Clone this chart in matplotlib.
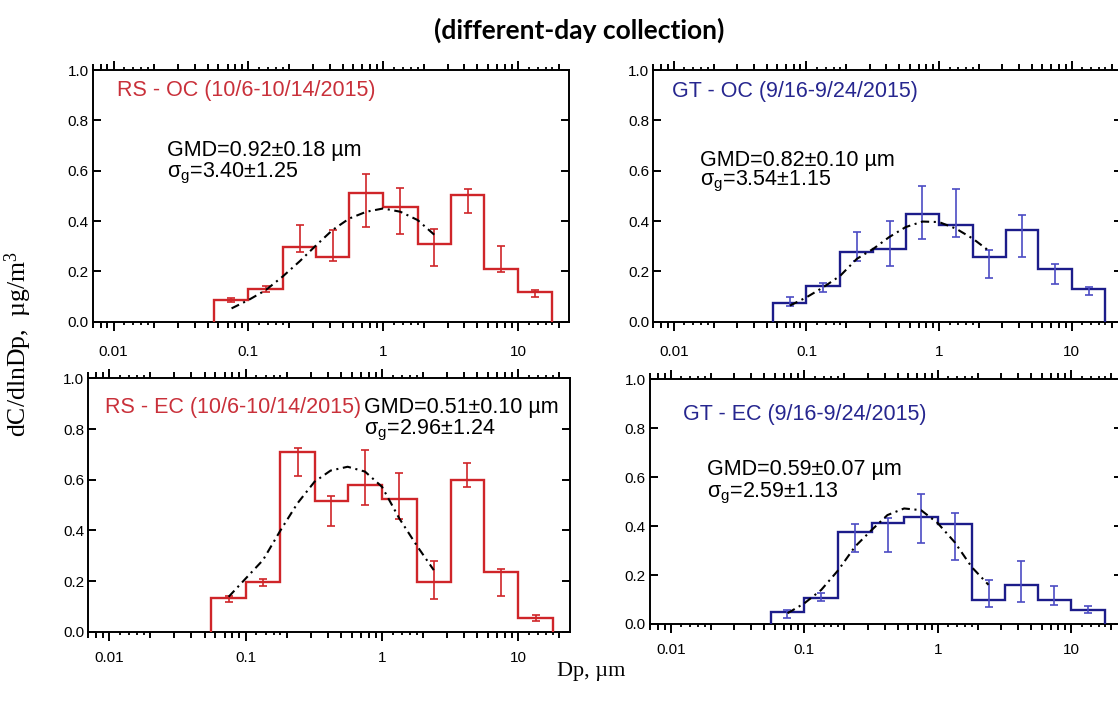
import matplotlib
matplotlib.use("Agg")
import numpy as np
import matplotlib.pyplot as plt
from matplotlib.ticker import FixedLocator, NullLocator

plt.rcParams['font.family'] = ['Liberation Sans', 'DejaVu Sans']
plt.rcParams['mathtext.default'] = 'regular'

# MOUDI stage boundaries, um
bin_edges = [0.056, 0.1, 0.18, 0.32, 0.56, 1.0, 1.8, 3.2, 5.6, 10.0, 18.0]

fit_dp = [0.075, 0.1, 0.134, 0.18, 0.24, 0.32, 0.42, 0.56, 0.75, 1.0, 1.34, 1.8, 2.4]

# RS - OC
rs_oc = [0.088, 0.132, 0.297, 0.259, 0.512, 0.455, 0.307, 0.502, 0.209, 0.120]
rs_oc_lo = [0.078, 0.118, 0.278, 0.243, 0.377, 0.349, 0.221, 0.430, 0.196, 0.100]
rs_oc_hi = [0.094, 0.140, 0.385, 0.364, 0.588, 0.530, 0.368, 0.528, 0.300, 0.126]
rs_oc_fit = [0.053, 0.086, 0.125, 0.180, 0.240, 0.305, 0.364, 0.410, 0.437, 0.450, 0.437, 0.404, 0.345]

# GT - OC
gt_oc = [0.074, 0.142, 0.279, 0.290, 0.429, 0.385, 0.259, 0.363, 0.210, 0.129]
gt_oc_lo = [0.064, 0.117, 0.243, 0.220, 0.329, 0.336, 0.174, 0.259, 0.150, 0.108]
gt_oc_hi = [0.100, 0.153, 0.356, 0.402, 0.538, 0.529, 0.283, 0.425, 0.230, 0.137]
gt_oc_fit = [0.064, 0.097, 0.137, 0.183, 0.250, 0.290, 0.336, 0.376, 0.398, 0.396, 0.370, 0.330, 0.280]

# RS - EC
rs_ec = [0.132, 0.195, 0.708, 0.517, 0.579, 0.522, 0.197, 0.599, 0.234, 0.053]
rs_ec_lo = [0.118, 0.180, 0.616, 0.417, 0.500, 0.443, 0.130, 0.572, 0.142, 0.042]
rs_ec_hi = [0.142, 0.210, 0.724, 0.537, 0.717, 0.628, 0.280, 0.667, 0.249, 0.066]
rs_ec_fit = [0.138, 0.210, 0.283, 0.400, 0.507, 0.592, 0.636, 0.651, 0.632, 0.572, 0.447, 0.340, 0.243]

# GT - EC
gt_ec = [0.048, 0.106, 0.374, 0.411, 0.438, 0.407, 0.098, 0.159, 0.098, 0.057]
gt_ec_lo = [0.023, 0.095, 0.295, 0.295, 0.329, 0.261, 0.071, 0.091, 0.078, 0.046]
gt_ec_hi = [0.057, 0.125, 0.407, 0.435, 0.533, 0.452, 0.180, 0.257, 0.155, 0.075]
gt_ec_fit = [0.044, 0.084, 0.139, 0.220, 0.316, 0.384, 0.445, 0.472, 0.465, 0.412, 0.334, 0.232, 0.160]

RED = '#cf2529'
RED_TXT = '#c9303a'
BLUE = '#1c1c8a'
BLUE_ERR = '#4b4bc4'
BLUE_TXT = '#26268f'


def style_axes(ax, xpad):
    ax.set_xscale('log')
    ax.set_xlim(0.007, 24)
    ax.set_ylim(0, 1.0)

    decades = [0.001, 0.01, 0.1, 1, 10]
    minor = [k * d for d in decades for k in range(2, 10) if 0.007 <= k * d <= 24]
    sub = [k * d for d in decades for k in (1.2, 1.4, 1.6, 1.8) if 0.007 <= k * d <= 24]

    # tiny sub-minor ticks between 1 and 2 of each decade
    for side in ('top', 'bottom'):
        sec = ax.secondary_xaxis(side)
        sec.set_xticks(sub)
        sec.xaxis.set_minor_locator(NullLocator())
        sec.tick_params(axis='x', which='major', direction='out', length=2.2, width=1.3,
                        labelbottom=False, labeltop=False)
        sec.spines[side].set_visible(False)

    ax.set_yticks(np.arange(0, 1.01, 0.2))
    ax.set_yticklabels(['0.0', '0.2', '0.4', '0.6', '0.8', '1.0'])
    ax.tick_params(axis='y', direction='in', length=6, width=1.4,
                   left=True, right=True, labelsize=11, pad=3)

    ax.set_xticks([0.01, 0.1, 1, 10], ['0.01', '0.1', '1', '10'])
    ax.xaxis.set_minor_locator(FixedLocator(minor))
    ax.xaxis.set_ticks_position('both')
    ax.tick_params(axis='x', which='both', direction='out', top=True, bottom=True,
                   labeltop=False, labelbottom=True, labelsize=11, pad=xpad, width=1.4)
    ax.tick_params(axis='x', which='major', length=6.5)
    ax.tick_params(axis='x', which='minor', length=4)

    for s in ax.spines.values():
        s.set_linewidth(1.4)


def draw_panel(ax, values, lo, hi, fit, line_color, err_color, xpad):
    edges = np.array(bin_edges)
    centers = np.sqrt(edges[:-1] * edges[1:])
    lo = np.array(lo)
    hi = np.array(hi)
    ax.stairs(values, edges, baseline=0, color=line_color, linewidth=1.7, zorder=3)
    ax.errorbar(centers, (lo + hi) / 2, yerr=(hi - lo) / 2, fmt='none',
                ecolor=err_color, elinewidth=1.2, capsize=2.8, capthick=1.2, zorder=3)
    ax.plot(fit_dp, fit, color='black', linewidth=1.5,
            linestyle=(0, (4, 2.2, 1, 2.2)), zorder=4)
    style_axes(ax, xpad)


def main():
    fig = plt.figure(figsize=(11.18, 7.11), dpi=100)

    ax1 = fig.add_axes([0.0829, 0.5475, 0.4263, 0.354])
    ax2 = fig.add_axes([0.5844, 0.5475, 0.4192, 0.354])
    ax3 = fig.add_axes([0.0790, 0.1115, 0.4309, 0.3564])
    ax4 = fig.add_axes([0.5814, 0.1224, 0.4222, 0.3442])

    draw_panel(ax1, rs_oc, rs_oc_lo, rs_oc_hi, rs_oc_fit, RED, RED, 10)
    draw_panel(ax2, gt_oc, gt_oc_lo, gt_oc_hi, gt_oc_fit, BLUE, BLUE_ERR, 10)
    draw_panel(ax3, rs_ec, rs_ec_lo, rs_ec_hi, rs_ec_fit, RED, RED, 7.5)
    draw_panel(ax4, gt_ec, gt_ec_lo, gt_ec_hi, gt_ec_fit, BLUE, BLUE_ERR, 7)

    fs = 15.5
    ax1.text(0.050, 0.917, 'RS - OC (10/6-10/14/2015)', transform=ax1.transAxes,
             color=RED_TXT, fontsize=fs, va='center')
    ax1.text(0.155, 0.682, 'GMD=0.92±0.18 µm', transform=ax1.transAxes, fontsize=fs, va='center')
    ax1.text(0.155, 0.591, 'σ$_g$=3.40±1.25', transform=ax1.transAxes, fontsize=fs, va='center')

    ax2.text(0.039, 0.914, 'GT - OC (9/16-9/24/2015)', transform=ax2.transAxes,
             color=BLUE_TXT, fontsize=fs, va='center')
    ax2.text(0.0995, 0.642, 'GMD=0.82±0.10 µm', transform=ax2.transAxes, fontsize=fs, va='center')
    ax2.text(0.0995, 0.556, 'σ$_g$=3.54±1.15', transform=ax2.transAxes, fontsize=fs, va='center')

    ax3.text(0.035, 0.886, 'RS - EC (10/6-10/14/2015)', transform=ax3.transAxes,
             color=RED_TXT, fontsize=fs, va='center')
    ax3.text(0.572, 0.886, 'GMD=0.51±0.10 µm', transform=ax3.transAxes, fontsize=fs, va='center')
    ax3.text(0.572, 0.796, 'σ$_g$=2.96±1.24', transform=ax3.transAxes, fontsize=fs, va='center')

    ax4.text(0.0706, 0.854, 'GT - EC (9/16-9/24/2015)', transform=ax4.transAxes,
             color=BLUE_TXT, fontsize=fs, va='center')
    ax4.text(0.121, 0.632, 'GMD=0.59±0.07 µm', transform=ax4.transAxes, fontsize=fs, va='center')
    ax4.text(0.121, 0.534, 'σ$_g$=2.59±1.13', transform=ax4.transAxes, fontsize=fs, va='center')

    fig.text(0.518, 0.958, '(different-day collection)', ha='center', va='center',
             fontsize=19, fontweight='bold', family=['Lato', 'DejaVu Sans'])
    fig.text(0.016, 0.516, 'dC/dlnDp,  µg/m$\\mathregular{^3}$', rotation=90,
             ha='center', va='center', fontsize=18.5, family=['Liberation Serif', 'DejaVu Serif'])
    fig.text(0.529, 0.055, 'Dp, µm', ha='center', va='center', fontsize=16,
             family=['Liberation Serif', 'DejaVu Serif'])

    fig.savefig('out.png', dpi=100)


if __name__ == "__main__":
    main()
